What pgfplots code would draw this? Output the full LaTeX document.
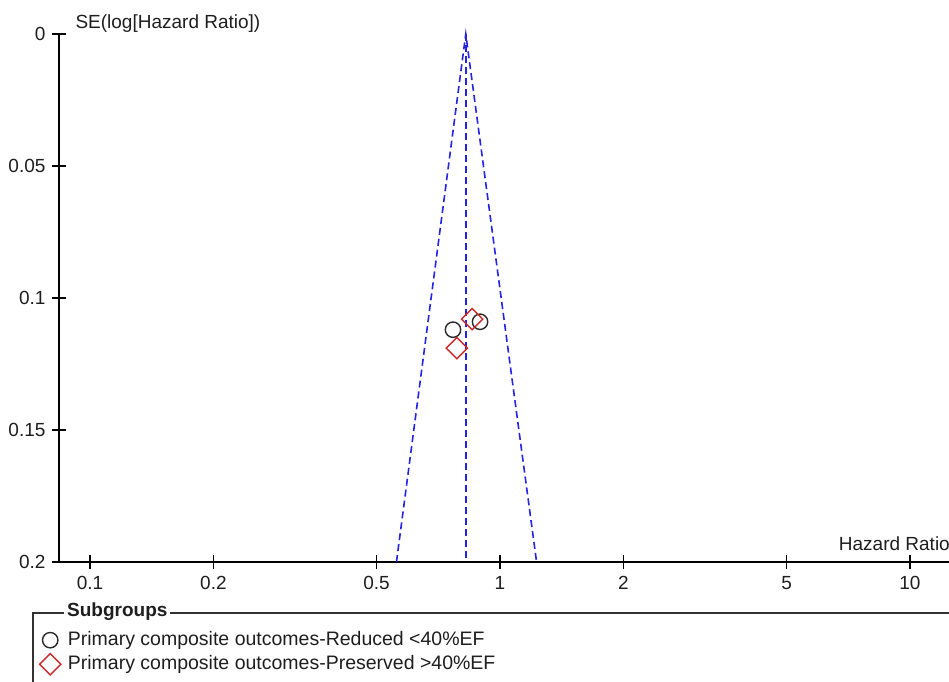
\documentclass[border=0pt]{standalone}
\usepackage{fontspec}
\setmainfont{Liberation Sans}
\usepackage{pgfplots}
\pgfplotsset{compat=1.18}
\definecolor{funnelblue}{RGB}{35,35,225}
\definecolor{mkred}{RGB}{205,40,40}
\definecolor{mkgray}{RGB}{40,40,40}
\definecolor{txt}{RGB}{30,30,30}
\begin{document}
\fontsize{19}{22}\selectfont
\begin{tikzpicture}[x=1pt,y=1pt]
\useasboundingbox (0,0) rectangle (949,681);
\begin{axis}[
  at={(59pt,119pt)}, anchor=south west,
  scale only axis, width=890pt, height=528pt,
  xmode=log, xmin=0.0840, xmax=12.45,
  ymin=0, ymax=0.2, y dir=reverse,
  axis x line*=bottom, axis y line*=left,
  axis line style={black, line width=1.3pt},
  x axis line style={shorten <=-7pt},
  tick align=center, major tick length=14pt,
  tick style={black, line width=1.1pt},
  minor tick num=0,
  xtick={0.1,0.2,0.5,1,2,5,10},
  xticklabels={0.1,0.2,0.5,1,2,5,10},
  ytick={0,0.05,0.1,0.15,0.2},
  yticklabels={0,0.05,0.1,0.15,0.2},
  /pgf/number format/assume math mode=true,
  ticklabel style={font=\fontsize{19}{22}\selectfont, text=txt},
  xticklabel style={yshift=-1pt},
  yticklabel style={xshift=0pt},
  clip=false,
  legend style={at={(axis description cs:-0.022,-0.124)}, anchor=north west,
    draw=none, fill=none, font=\fontsize{19.5}{22.5}\selectfont, text=txt,
    row sep=3pt, inner xsep=0pt, cells={anchor=west}},
  legend image code/.code={\path (-7pt,0pt) (15pt,0pt); \draw[#1] plot coordinates {(0pt,0pt)};},
]
\addplot[funnelblue, line width=1.6pt, dash pattern=on 7pt off 4pt, forget plot]
  coordinates {(0.559,0.2) (0.825,0) (1.228,0.2)};
\addplot[funnelblue, line width=1.6pt, dash pattern=on 7pt off 4pt, forget plot]
  coordinates {(0.825,0) (0.825,0.2)};
\addplot[only marks, mark=o, mark size=7.7pt, mkgray, line width=1.4pt]
  coordinates {(0.768,0.112) (0.894,0.109)};
\addlegendentry{Primary composite outcomes-Reduced <40\%EF}
\addplot[only marks, mark=square, mark size=7.5pt, mark options={rotate=45}, mkred, line width=1.4pt]
  coordinates {(0.855,0.108) (0.785,0.119)};
\addlegendentry{Primary composite outcomes-Preserved >40\%EF}
\node[anchor=base west, text=txt, font=\fontsize{19}{22}\selectfont] at (axis description cs:0,1) [xshift=10pt, yshift=6pt] {SE(log[Hazard Ratio])};
\node[anchor=base west, text=txt, font=\fontsize{19}{22}\selectfont] at (axis description cs:0.869,0) [yshift=12pt] {Hazard Ratio};
\end{axis}
\draw[line width=1.4pt, black!80] (33,-20) -- (33,68) -- (975,68);
\node[fill=white, anchor=west, inner sep=3pt, text=txt, font=\fontsize{19}{22}\selectfont\bfseries] at (64,69) {Subgroups};
\end{tikzpicture}
\end{document}
